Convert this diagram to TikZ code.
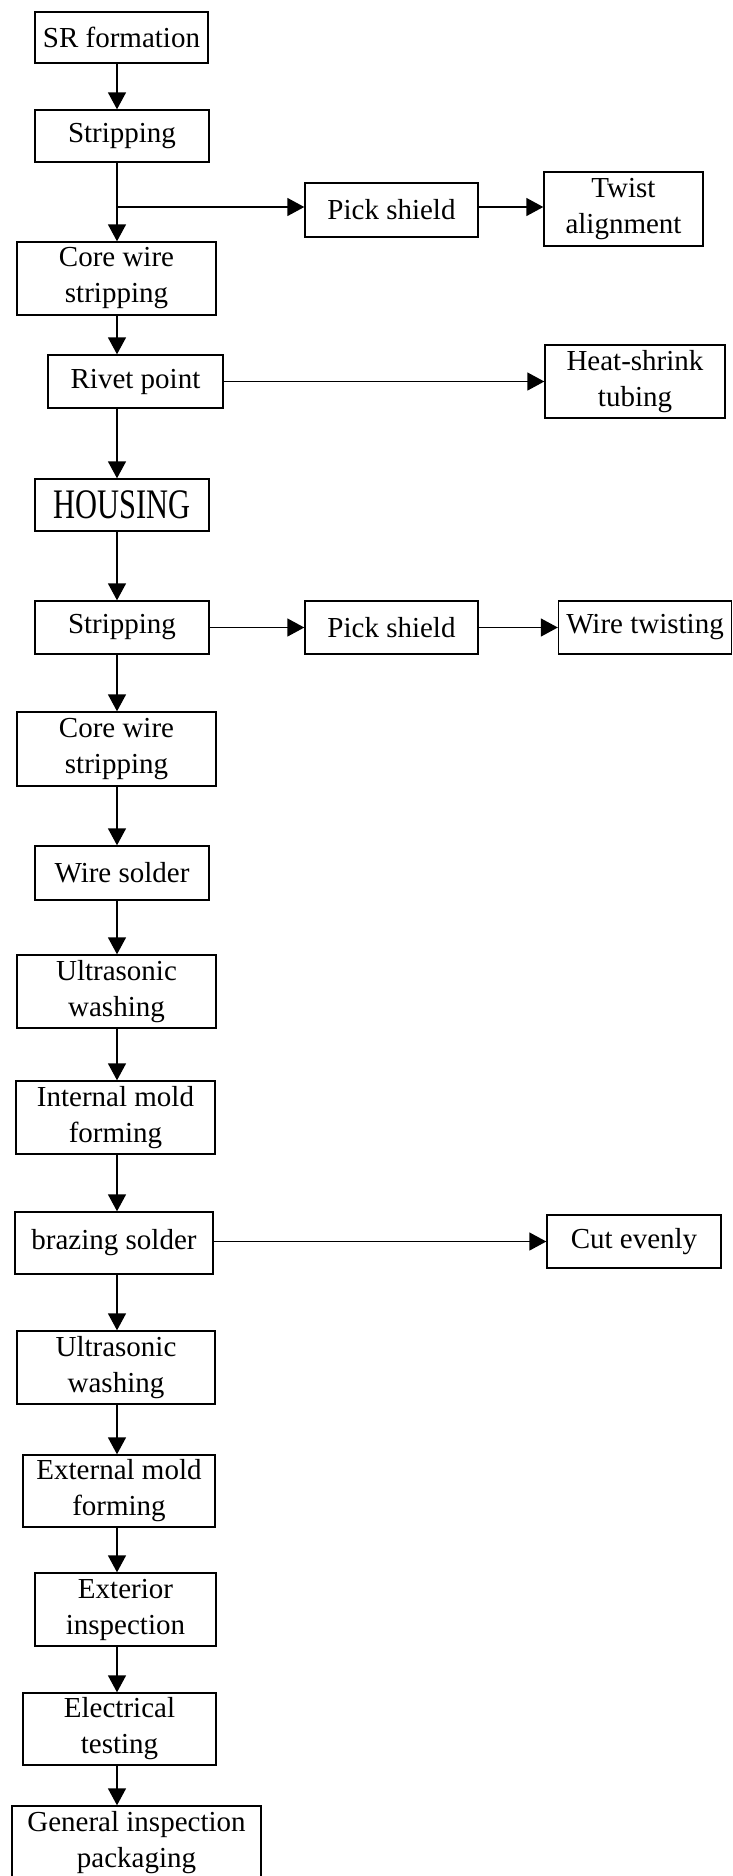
\documentclass[tikz,border=0pt]{standalone}
\usepackage{fontspec}
\setmainfont{Liberation Serif}
\usetikzlibrary{arrows.meta}
\tikzset{
  box/.style 2 args={draw, line width=0.7pt, inner sep=0pt, align=center,
    minimum width=#1*0.5pt, minimum height=#2*0.5pt,
    font=\fontsize{14.5}{18}\selectfont},
}
\begin{document}
\begin{tikzpicture}[x=0.5pt,y=-0.5pt]
      \useasboundingbox (0,0) rectangle (733,1876);
      \coordinate (spine) at (117,0);
      \coordinate (fork) at (117,207);
      \draw
        (121.5,37.5) node[box={173}{51}] (sr){SR formation}
        (122,136) node[box={174}{52}] (strip1){Stripping}
        (391.5,210) node[box={173}{54}] (pick1){Pick shield}
        (623.5,209) node[box={159}{74}] (twist){Twist\\alignment}
        (116.5,278.5) node[box={199}{73}] (core1){Core wire\\stripping}
        (135.5,381.5) node[box={175}{53}] (rivet){Rivet point}
        (635,381.5) node[box={180}{73}] (heat){Heat-shrink\\tubing}
        (122,505) node[box={174}{52}] (housing){\scalebox{1.05}[1.45]{HOUSING}}
        (122,627.5) node[box={174}{53}] (strip2){Stripping}
        (391.5,627.5) node[box={173}{53}] (pick2){Pick shield}
        (645,627.5) node[box={173}{53}] (wiretw){Wire twisting}
        (116.5,749) node[box={199}{74}] (core2){Core wire\\stripping}
        (122,873) node[box={174}{54}] (wsolder){Wire solder}
        (116.5,991.5) node[box={199}{73}] (ultra1){Ultrasonic\\washing}
        (115.5,1117.5) node[box={199}{73}] (intmold){Internal mold\\forming}
        (114,1243) node[box={198}{62}] (brazing){brazing solder}
        (634,1241.5) node[box={174}{53}] (cut){Cut evenly}
        (116,1367.5) node[box={198}{73}] (ultra2){Ultrasonic\\washing}
        (119,1491) node[box={192}{72}] (extmold){External mold\\forming}
        (125.5,1609.5) node[box={181}{73}] (exterior){Exterior\\inspection}
        (119.5,1729) node[box={193}{72}] (elec){Electrical\\testing}
        (136.5,1843) node[box={249}{74}] (general){General inspection\\packaging};
      \begin{scope}[line width=0.75pt, -{Triangle[length=8.5pt,width=9pt]}]
        \draw (sr.south -| spine) to (strip1.north -| spine);
        \draw (strip1.south -| spine) to (core1.north -| spine);
        \draw (fork) to (fork -| pick1.west);
        \draw (fork -| pick1.east) to (fork -| twist.west);
        \draw (core1.south -| spine) to (rivet.north -| spine);
        \draw (rivet.east) to (rivet.east -| heat.west);
        \draw (rivet.south -| spine) to (housing.north -| spine);
        \draw (housing.south -| spine) to (strip2.north -| spine);
        \draw (strip2.east) to (pick2.west);
        \draw (pick2.east) to (wiretw.west);
        \draw (strip2.south -| spine) to (core2.north -| spine);
        \draw (core2.south -| spine) to (wsolder.north -| spine);
        \draw (wsolder.south -| spine) to (ultra1.north -| spine);
        \draw (ultra1.south -| spine) to (intmold.north -| spine);
        \draw (intmold.south -| spine) to (brazing.north -| spine);
        \draw (cut.west -| brazing.east) to (cut.west);
        \draw (brazing.south -| spine) to (ultra2.north -| spine);
        \draw (ultra2.south -| spine) to (extmold.north -| spine);
        \draw (extmold.south -| spine) to (exterior.north -| spine);
        \draw (exterior.south -| spine) to (elec.north -| spine);
        \draw (elec.south -| spine) to (general.north -| spine);
      \end{scope}
    \end{tikzpicture}
\end{document}
